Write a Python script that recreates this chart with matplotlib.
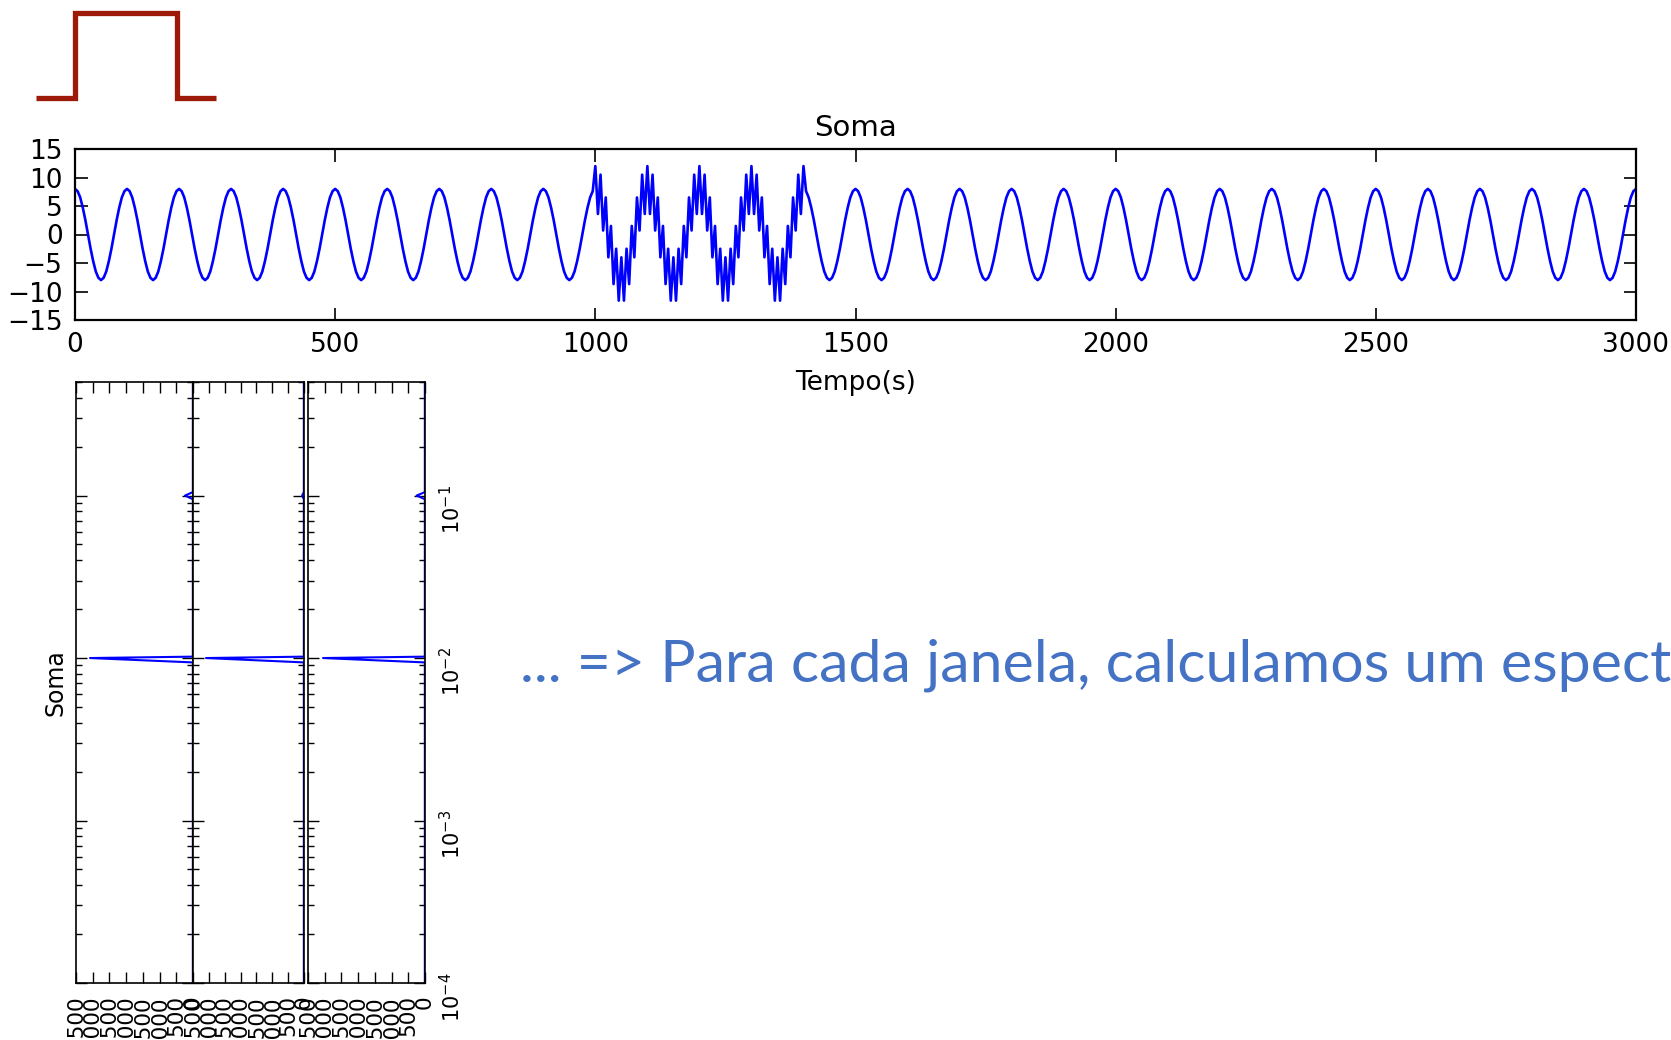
import numpy as np
import matplotlib.pyplot as plt
from matplotlib.ticker import MultipleLocator, LogLocator, NullFormatter

# one period (100 s) of the base wave, read every 5 s
base_period = [8.0, 7.6, 6.5, 4.7, 2.5, 0.0, -2.5, -4.7, -6.5, -7.6,
               -8.0, -7.6, -6.5, -4.7, -2.5, 0.0, 2.5, 4.7, 6.5, 7.6]
# fast component added inside the burst
burst_period = [4.0, -4.0]
burst_start, burst_end = 1000, 1400
step = 5
t_end = 3000

# spectra of the three windows (magnitude vs frequency)
freq = [1e-4, 0.0094, 0.0100, 0.0102, 0.095, 0.100, 0.105, 0.5]
spec_left = [5, 5, 3080, 5, 5, 240, 5, 5]
spec_mid = [5, 5, 3090, 5, 5, 60, 5, 5]
spec_right = [5, 5, 3050, 5, 5, 250, 5, 5]

# rectangular window icon
window_edges = [0, 1, 3.6, 4.6]
window_level = [0, 1, 0]

time = np.arange(0, t_end + step, step)
soma = np.resize(base_period, time.size)
in_burst = (time >= burst_start) & (time <= burst_end)
soma[in_burst] += np.resize(burst_period, in_burst.sum())

W, H = 1671, 1040
fig = plt.figure(figsize=(W / 100, H / 100), dpi=100)


def box(x0, y0, x1, y1):
    return [x0 / W, 1 - y1 / H, (x1 - x0) / W, (y1 - y0) / H]


# window icon
axw = fig.add_axes(box(36, 13, 216, 98))
axw.stairs(window_level, window_edges, baseline=None, color='#9C1A08',
           lw=3.8, clip_on=False)
axw.set_xlim(0, 4.6)
axw.set_ylim(0, 1)
axw.axis('off')

# time series
ax = fig.add_axes(box(75, 149, 1636, 320))
ax.plot(time, soma, color='b', lw=1.9)
ax.set_xlim(0, 3000)
ax.set_ylim(-15, 15)
ax.xaxis.set_major_locator(MultipleLocator(500))
ax.yaxis.set_major_locator(MultipleLocator(5))
ax.tick_params(direction='in', top=True, right=True, length=9, width=1.2,
               labelsize=19)
ax.tick_params(axis='x', pad=9)
ax.tick_params(axis='y', pad=9)
for s in ax.spines.values():
    s.set_linewidth(1.6)
ax.set_title('Soma', fontsize=21, pad=9)
ax.set_xlabel('Tempo(s)', fontsize=19, labelpad=8)

# spectra
panels = [(box(76, 382, 193, 983), spec_left),
          (box(193, 382, 304, 983), spec_mid),
          (box(308, 382, 425, 983), spec_right)]
axes = []
for pos, spec in panels:
    a = fig.add_axes(pos)
    a.plot(spec, freq, color='b', lw=1.5)
    a.set_yscale('log')
    a.set_ylim(1e-4, 0.5)
    a.set_xlim(3500, 0)
    a.xaxis.set_major_locator(MultipleLocator(500))
    a.yaxis.set_major_locator(LogLocator(base=10))
    a.yaxis.set_minor_locator(LogLocator(base=10, subs=np.arange(2, 10)))
    a.yaxis.set_minor_formatter(NullFormatter())
    a.tick_params(which='both', direction='in', top=True, right=True,
                  width=1.0, labelleft=False)
    a.tick_params(which='major', length=8)
    a.tick_params(which='minor', length=4)
    a.tick_params(axis='x', labelrotation=90, labelsize=15.5, pad=9)
    for s in a.spines.values():
        s.set_linewidth(1.2)
    axes.append(a)

axes[0].set_ylabel('Soma', fontsize=17, labelpad=6)
axes[2].tick_params(axis='y', labelright=True, labelrotation=90,
                    labelsize=15, pad=10)

fig.text(520 / W, 1 - 682 / H, '... => Para cada janela, calculamos um espectro',
         color='#4472C4', fontsize=42.5, family='Lato', va='baseline')

fig.savefig('out.png', dpi=100)
